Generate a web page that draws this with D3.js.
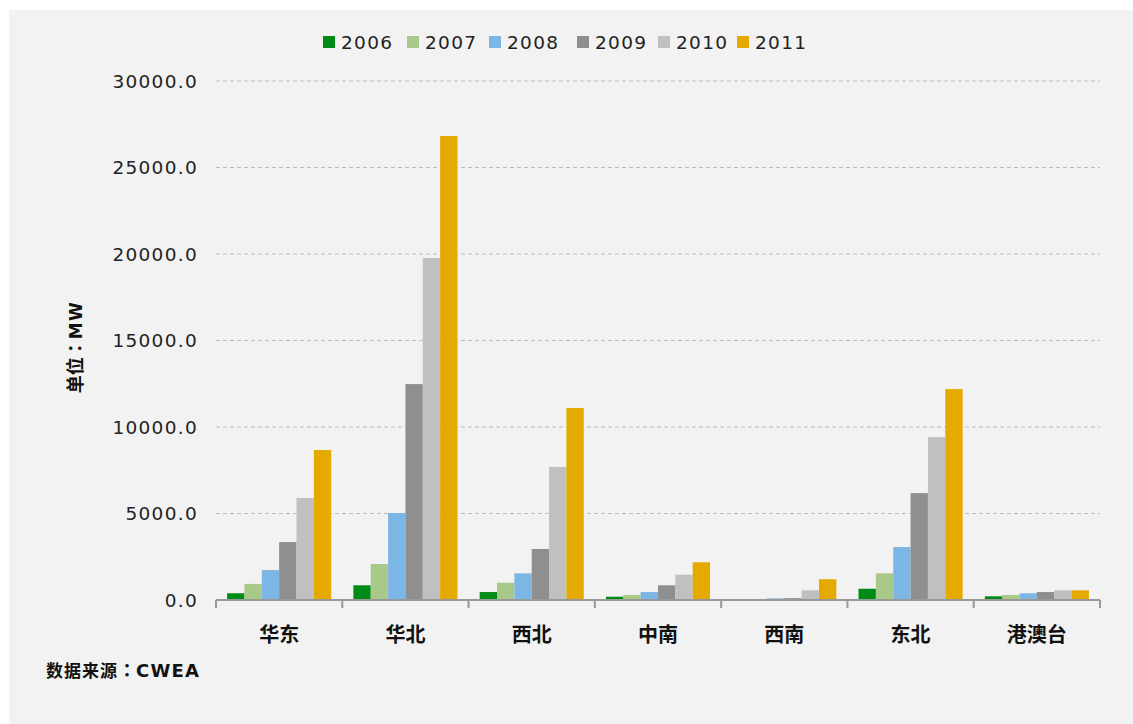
<!DOCTYPE html>
<html>
<head>
<meta charset="utf-8">
<script src="https://cdn.jsdelivr.net/npm/d3@7"></script>
<style>
  body { margin: 0; background: #fff; }
  text { font-family: "DejaVu Sans", Verdana, sans-serif; }
  .cjk { font-family: "Noto Sans CJK SC", sans-serif; font-weight: bold; }
  .lat { font-family: "DejaVu Sans", sans-serif; font-weight: bold; }
  .colon { font-family: "Noto Sans CJK JP", sans-serif; font-weight: bold; }
</style>
</head>
<body>
<div id="chart"></div>
<script>
// data
const regions = ["华东", "华北", "西北", "中南", "西南", "东北", "港澳台"];
const years = ["2006", "2007", "2008", "2009", "2010", "2011"];
const v2006 = [390, 850, 460, 190, 0, 650, 215];
const v2007 = [930, 2080, 1000, 290, 0, 1540, 290];
const v2008 = [1730, 5030, 1540, 460, 100, 3060, 390];
const v2009 = [3350, 12480, 2950, 850, 110, 6180, 460];
const v2010 = [5900, 19770, 7690, 1460, 560, 9420, 560];
const v2011 = [8670, 26820, 11100, 2180, 1200, 12190, 560];
const yTicks = [0, 5000, 10000, 15000, 20000, 25000, 30000];
const colors = ["#008a16", "#a9c98a", "#7bb6e4", "#8f8f8f", "#c0c0c0", "#e5aa00"];

const series = [v2006, v2007, v2008, v2009, v2010, v2011];

const W = 1133, H = 724;
const margin = {top: 81, right: 33, bottom: 124, left: 216},
    width = W - margin.left - margin.right,
    height = H - margin.top - margin.bottom;

const root = d3.select("#chart").append("svg")
    .attr("width", W)
    .attr("height", H);

// background panel
root.append("rect")
    .attr("x", 9).attr("y", 10)
    .attr("width", W - 9).attr("height", H - 10)
    .attr("fill", "#f2f2f2");

const svg = root.append("g")
    .attr("transform", "translate(" + margin.left + "," + margin.top + ")");

const x0 = d3.scaleBand().domain(regions).range([0, width]).padding(0);
const x1 = d3.scaleBand().domain(years).range([0, x0.bandwidth()])
    .paddingInner(0).paddingOuter(0.64);
const y = d3.scaleLinear().domain([0, 30000]).range([height, 0]);

// grid lines
svg.selectAll(".grid")
    .data(yTicks.filter(d => d > 0))
    .enter().append("line")
    .attr("x1", 0).attr("x2", width)
    .attr("y1", d => y(d)).attr("y2", d => y(d))
    .style("stroke", "#bdbdbd")
    .style("stroke-width", 1)
    .style("stroke-dasharray", "4,3");

// y labels
svg.selectAll(".ylab")
    .data(yTicks)
    .enter().append("text")
    .attr("x", -18)
    .attr("y", d => y(d))
    .attr("dy", "0.36em")
    .attr("text-anchor", "end")
    .style("font-size", "18.5px")
    .style("letter-spacing", "1.3px")
    .style("fill", "#222")
    .text(d => d3.format(".1f")(d));

// bars
const groups = svg.selectAll(".group")
    .data(regions)
    .enter().append("g")
    .attr("transform", d => "translate(" + x0(d) + ",0)");

groups.selectAll("rect")
    .data((d, i) => years.map((yr, j) => ({year: yr, value: series[j][i], c: colors[j]})))
    .enter().append("rect")
    .attr("x", d => x1(d.year))
    .attr("width", x1.bandwidth())
    .attr("y", d => y(d.value))
    .attr("height", d => height - y(d.value))
    .style("fill", d => d.c);

// x axis
const xAxis = svg.append("g").attr("transform", "translate(0," + height + ")");
xAxis.append("line")
    .attr("x1", 0).attr("x2", width)
    .attr("y1", 0).attr("y2", 0)
    .style("stroke", "#999").style("stroke-width", 2);
const bounds = regions.map(r => x0(r)).concat([width]);
xAxis.selectAll(".tick")
    .data(bounds)
    .enter().append("line")
    .attr("x1", d => d).attr("x2", d => d)
    .attr("y1", 0).attr("y2", 8)
    .style("stroke", "#999").style("stroke-width", 2);
xAxis.selectAll(".xlab")
    .data(regions)
    .enter().append("text")
    .attr("class", "cjk")
    .attr("x", d => x0(d) + x0.bandwidth() / 2)
    .attr("y", 35)
    .attr("dy", "0.35em")
    .attr("text-anchor", "middle")
    .style("font-size", "20px")
    .style("fill", "#111")
    .text(d => d);

// y title
const yt = root.append("text")
    .attr("transform", "translate(76,347) rotate(-90)")
    .attr("text-anchor", "middle")
    .attr("dy", "0.35em")
    .style("fill", "#111");
yt.append("tspan").attr("class", "cjk").style("font-size", "18px").text("单位");
yt.append("tspan").attr("class", "colon").style("font-size", "18px").text("：");
yt.append("tspan").attr("class", "lat").style("font-size", "17px").style("letter-spacing", "1.5px").text("MW");

// source
const src = root.append("text")
    .attr("x", 46).attr("y", 671)
    .attr("dy", "0.35em")
    .style("fill", "#111");
src.append("tspan").attr("class", "cjk").style("font-size", "17px").style("letter-spacing", "1px").text("数据来源");
src.append("tspan").attr("class", "colon").style("font-size", "18px").text("：");
src.append("tspan").attr("class", "lat").style("font-size", "18px").style("letter-spacing", "1.2px").text("CWEA");

// legend
const legendX = [323, 407, 489, 577, 658, 737];
const legend = root.selectAll(".legend")
    .data(years)
    .enter().append("g")
    .attr("transform", (d, i) => "translate(" + legendX[i] + ",42)");
legend.append("rect")
    .attr("x", 0).attr("y", -6)
    .attr("width", 12).attr("height", 12)
    .style("fill", (d, i) => colors[i]);
legend.append("text")
    .attr("x", 18)
    .attr("dy", "0.36em")
    .style("font-size", "18.5px")
    .style("letter-spacing", "1.3px")
    .style("fill", "#222")
    .text(d => d);
</script>
</body>
</html>
